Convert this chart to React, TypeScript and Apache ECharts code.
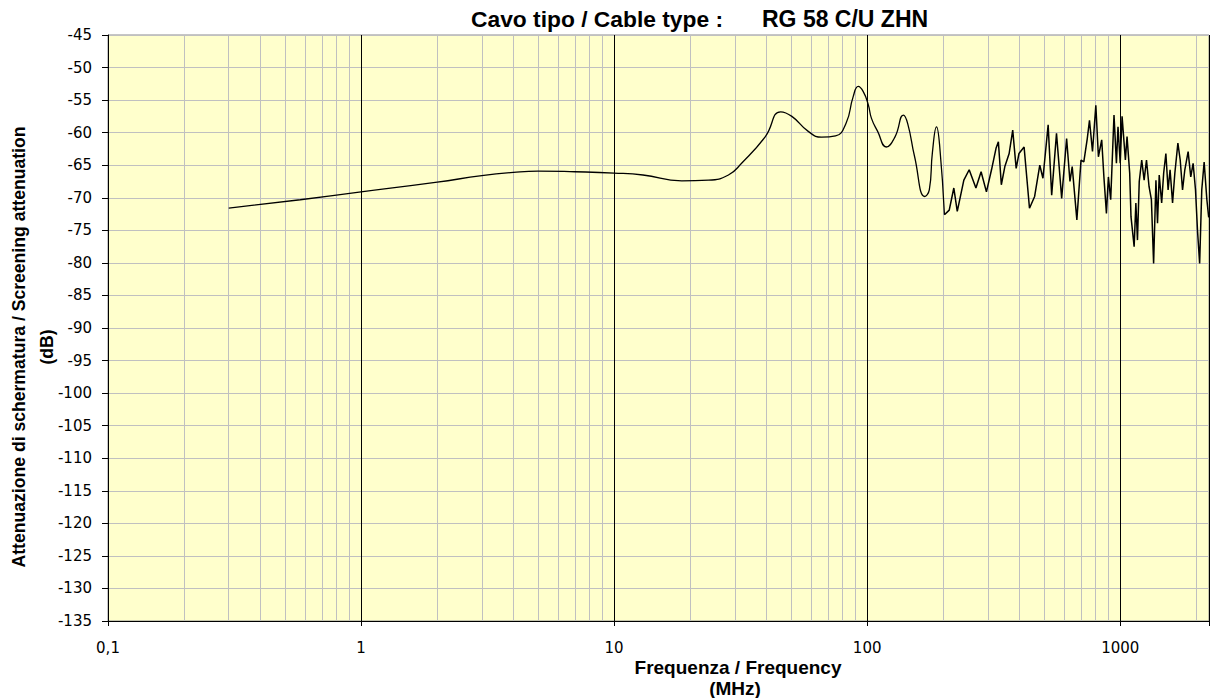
import React, { useEffect, useRef } from "react";
import * as echarts from "echarts";

// Smooth low-frequency part (MHz, dB)
const lowFreqMHz = [
  0.3, 0.575, 1, 2, 3, 4, 5, 7, 10, 13, 18.5, 23.6, 28.3, 31.9, 39.6, 45.5, 50.4,
  58.5, 66, 75, 82.6, 88, 92.2, 96.5, 101, 104, 110, 119, 129, 139, 144.6, 154,
  169, 176, 181, 188, 193.6, 202,
];
const lowDb = [
  -71.6, -70.3, -69.1, -67.6, -66.6, -66.1, -65.9, -66.0, -66.2, -66.5, -67.4,
  -67.3, -66.5, -64.7, -60.6, -56.8, -57.5, -59.8, -60.7, -60.5, -58.5, -54.5,
  -52.9, -53.7, -55.7, -57.8, -59.8, -62.2, -60.6, -57.3, -58.6, -63.7, -69.8,
  -68.8, -63.1, -59.1, -62.2, -72.6,
];

// Noisy high-frequency part (MHz, dB)
const highFreqMHz = [
  202, 211, 220, 227, 241, 253, 269, 282, 296, 310, 323, 330, 339, 350, 364, 376,
  388, 398, 417, 438, 459, 481, 495, 519, 536, 560, 587, 614, 633, 646, 674, 700,
  718, 741, 756, 777, 801, 820, 845, 862, 882, 898, 917, 945, 966, 980, 1000,
  1017, 1048, 1064, 1090, 1103, 1135, 1153, 1170, 1189, 1216, 1243, 1270, 1300,
  1328, 1355, 1384, 1404, 1426, 1458, 1485, 1515, 1546, 1574, 1610, 1644, 1690,
  1726, 1763, 1800, 1855, 1900, 1941, 1984, 2020, 2060, 2100, 2146, 2200, 2237,
];
const highDb = [
  -72.6, -71.9, -68.5, -72.1, -67.3, -65.7, -68.5, -66.0, -69.1, -65.7, -62.4,
  -61.4, -68.0, -65.2, -63.2, -59.6, -65.5, -63.2, -62.2, -71.6, -69.8, -65.0,
  -67.0, -58.8, -69.6, -60.1, -70.1, -60.9, -67.5, -65.2, -73.4, -64.2, -64.5,
  -60.9, -58.1, -62.9, -55.8, -63.7, -61.1, -66.8, -72.4, -66.8, -70.3, -57.3,
  -64.7, -59.1, -64.7, -57.5, -64.2, -60.6, -66.2, -72.9, -77.5, -70.8, -76.5,
  -67.5, -64.2, -67.3, -64.2, -68.3, -70.3, -80.1, -67.3, -73.9, -66.5, -70.8,
  -66.2, -63.2, -68.8, -65.7, -70.8, -66.2, -61.6, -64.2, -68.8, -65.7, -62.9,
  -66.8, -64.7, -68.8, -75.0, -80.1, -68.8, -64.5, -70.3, -73.0,
];

const xTickLabels = ["0,1", "1", "10", "100", "1000"];
const X_MIN = 0.1;
const X_MAX = 2243;
const Y_MIN = -135;
const Y_MAX = -45;
const Y_STEP = 5;

const titleLeft = "Cavo tipo / Cable type :";
const titleRight = "RG 58 C/U ZHN";
const yName1 = "Attenuazione di schermatura / Screening attenuation";
const yName2 = "(dB)";
const xName1 = "Frequenza / Frequency";
const xName2 = "(MHz)";

export default function App() {
  const ref = useRef<HTMLDivElement>(null);
  useEffect(() => {
    document.body.style.margin = "0";
    const chart = echarts.init(ref.current as HTMLDivElement, null, { renderer: "svg" });

    const minor: number[] = [];
    for (let p = -1; p <= 3; p++) {
      for (let k = 2; k <= 9; k++) {
        const v = parseFloat((k * Math.pow(10, p)).toPrecision(3));
        if (v < X_MAX) minor.push(v);
      }
    }

    const labelFont = { fontFamily: "DejaVu Sans", fontSize: 15, color: "#000" };
    const boldFont = { fontFamily: "Liberation Sans, Arial, sans-serif", fontWeight: "bold" as const, fill: "#000" };

    chart.setOption({
      animation: false,
      backgroundColor: "#ffffff",
      grid: {
        left: 108,
        right: -4,
        top: 35,
        bottom: 77,
        show: true,
        backgroundColor: "#ffffcc",
        borderColor: "#8c8c8c",
        borderWidth: 1,
      },
      xAxis: {
        type: "log",
        logBase: 10,
        min: X_MIN,
        max: X_MAX,
        axisLine: { show: true, onZero: false, lineStyle: { color: "#000", width: 1 } },
        axisTick: { show: true, length: 5, lineStyle: { color: "#000", width: 1 } },
        axisLabel: {
          ...labelFont,
          margin: 19,
          formatter: (v: number) => {
            const l = Math.log10(v);
            const r = Math.round(l);
            if (Math.abs(l - r) > 1e-6) return "";
            return xTickLabels[r + 1] ?? "";
          },
        },
        splitLine: { show: true, lineStyle: { color: "#000", width: 1 } },
      },
      yAxis: {
        type: "value",
        min: Y_MIN,
        max: Y_MAX,
        interval: Y_STEP,
        axisLine: { show: true, onZero: false, lineStyle: { color: "#000", width: 1 } },
        axisTick: { show: true, length: 6, lineStyle: { color: "#000", width: 1 } },
        axisLabel: { ...labelFont, margin: 16 },
        splitLine: { show: true, lineStyle: { color: "#c0c0c0", width: 1 } },
      },
      graphic: [
        { type: "text", x: 471, y: 19, style: { ...boldFont, text: titleLeft, fontSize: 22.8, align: "left", verticalAlign: "middle" } },
        { type: "text", x: 762, y: 19, style: { ...boldFont, text: titleRight, fontSize: 23, align: "left", verticalAlign: "middle" } },
        { type: "text", x: 19, y: 347, rotation: Math.PI / 2, style: { ...boldFont, text: yName1, fontSize: 17.6, align: "center", verticalAlign: "middle" } },
        { type: "text", x: 47, y: 347, rotation: Math.PI / 2, style: { ...boldFont, text: yName2, fontSize: 17.6, align: "center", verticalAlign: "middle" } },
        { type: "text", x: 738, y: 667, style: { ...boldFont, text: xName1, fontSize: 19, align: "center", verticalAlign: "middle" } },
        { type: "text", x: 735, y: 688.5, style: { ...boldFont, text: xName2, fontSize: 19, align: "center", verticalAlign: "middle" } },
      ],
      series: [
        {
          type: "line",
          data: [],
          silent: true,
          z: 1,
          markLine: {
            silent: true,
            z: 1,
            symbol: ["none", "none"],
            label: { show: false },
            lineStyle: { color: "#c0c0c0", type: "solid", width: 1 },
            emphasis: { disabled: true },
            data: minor.map((v) => ({ xAxis: v })),
          },
        },
        {
          type: "line",
          data: lowFreqMHz.map((f, i) => [f, lowDb[i]]),
          smooth: 0.5,
          showSymbol: false,
          symbol: "none",
          silent: true,
          z: 3,
          lineStyle: { color: "#000", width: 1.3 },
        },
        {
          type: "line",
          data: highFreqMHz.map((f, i) => [f, highDb[i]]),
          smooth: false,
          showSymbol: false,
          symbol: "none",
          silent: true,
          z: 3,
          lineStyle: { color: "#000", width: 1.5 },
        },
      ],
    });
    return () => chart.dispose();
  }, []);
  return <div ref={ref} style={{ width: 1212, height: 698 }} />;
}
